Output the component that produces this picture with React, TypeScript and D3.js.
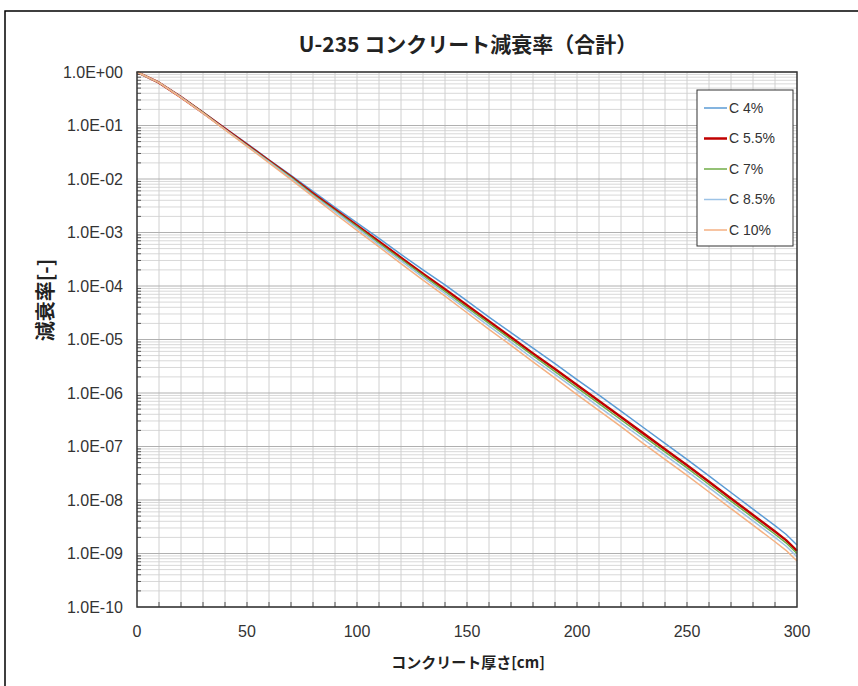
import * as d3 from "d3";

// 厚さ [cm]
const thickness = [0, 10, 20, 30, 40, 50, 60, 70, 80, 90, 100, 110, 120, 130, 140, 150, 160, 170, 180, 190, 200, 210, 220, 230, 240, 250, 260, 270, 280, 290, 295, 300];

// 減衰率 (log10 で読み取り)
const c4 = [0, -0.20, -0.47, -0.75, -1.05, -1.34, -1.64, -1.93, -2.23, -2.53, -2.82, -3.11, -3.41, -3.70, -3.98, -4.28, -4.58, -4.87, -5.16, -5.45, -5.75, -6.04, -6.34, -6.64, -6.94, -7.24, -7.55, -7.86, -8.17, -8.48, -8.64, -8.84];
const c55 = [0, -0.20, -0.47, -0.76, -1.06, -1.36, -1.66, -1.96, -2.27, -2.57, -2.87, -3.17, -3.47, -3.77, -4.06, -4.36, -4.66, -4.96, -5.26, -5.55, -5.85, -6.15, -6.45, -6.75, -7.05, -7.35, -7.66, -7.97, -8.28, -8.59, -8.75, -8.95];
const c7 = [0, -0.20, -0.47, -0.76, -1.07, -1.37, -1.67, -1.97, -2.29, -2.59, -2.89, -3.20, -3.50, -3.80, -4.10, -4.40, -4.70, -5.00, -5.30, -5.60, -5.90, -6.20, -6.50, -6.80, -7.10, -7.40, -7.71, -8.02, -8.33, -8.64, -8.80, -9.00];
const c85 = [0, -0.20, -0.47, -0.77, -1.07, -1.38, -1.68, -1.99, -2.31, -2.61, -2.92, -3.23, -3.53, -3.84, -4.14, -4.44, -4.75, -5.05, -5.36, -5.65, -5.95, -6.26, -6.56, -6.86, -7.16, -7.46, -7.77, -8.08, -8.39, -8.70, -8.86, -9.06];
const c10 = [0, -0.20, -0.48, -0.77, -1.08, -1.39, -1.70, -2.01, -2.33, -2.65, -2.96, -3.27, -3.58, -3.89, -4.19, -4.50, -4.81, -5.11, -5.42, -5.72, -6.03, -6.33, -6.63, -6.94, -7.24, -7.54, -7.85, -8.16, -8.47, -8.78, -8.94, -9.14];

const seriesNames = ["C 4%", "C 5.5%", "C 7%", "C 8.5%", "C 10%"];
const seriesColors = ["#5b9bd5", "#c00000", "#70ad47", "#9dc3e6", "#f4b183"];
const seriesWidths = [1.5, 2.5, 1.5, 1.5, 1.5];
const seriesLogs = [c4, c55, c7, c85, c10];

const xTickValues = [0, 50, 100, 150, 200, 250, 300];

const W = 858;
const H = 686;
const left = 137, right = 797, top = 72, bottom = 607;

const fmtExp = (v: number) => {
  const k = Math.round(Math.log10(v));
  return `1.0E${k < 0 ? "-" : "+"}${String(Math.abs(k)).padStart(2, "0")}`;
};

export default function App() {
  const x = d3.scaleLinear().domain([0, 300]).range([left, right]);
  const y = d3.scaleLog().domain([1, 1e-10]).range([top, bottom]);

  const allTicks = y.ticks(20);
  const majors = allTicks.filter(t => Math.abs(Math.log10(t) - Math.round(Math.log10(t))) < 1e-9);
  const minors = allTicks.filter(t => !majors.includes(t));
  const xGrid = d3.range(10, 300, 10);

  const line = d3.line<number>()
    .x((_, i) => x(thickness[i]))
    .y(v => y(Math.pow(10, v)));

  const tickFont = "'Liberation Sans', Arial, sans-serif";
  const cjkFont = "'Noto Sans CJK JP', sans-serif";

  return (
    <svg width={W} height={H} style={{ position: "absolute", left: 0, top: 0, background: "#fff" }}>
      <rect x={5} y={11} width={W} height={H} fill="#fff" stroke="#000" strokeWidth={1.5} />

      <text x={468} y={52} textAnchor="middle" fontFamily={cjkFont} fontWeight="bold" fontSize={21} fill="#222">
        U-235 コンクリート減衰率（合計）
      </text>

      <rect x={left} y={top} width={right - left} height={bottom - top} fill="#fff" />

      {minors.map(t => (
        <line key={`mn${t}`} x1={left} x2={right} y1={y(t)} y2={y(t)} stroke="#d8d8d8" strokeWidth={1} />
      ))}
      {xGrid.map(v => (
        <line key={`vx${v}`} x1={x(v)} x2={x(v)} y1={top} y2={bottom} stroke="#d0d0d0" strokeWidth={1} />
      ))}
      {majors.map(t => (
        <line key={`mj${t}`} x1={left} x2={right} y1={y(t)} y2={y(t)} stroke="#b0b0b0" strokeWidth={1} />
      ))}

      {/* tick marks */}
      {minors.map(t => (
        <line key={`tm${t}`} x1={left} x2={left + 4} y1={y(t)} y2={y(t)} stroke="#555" strokeWidth={1} />
      ))}
      {xGrid.map(v => (
        <line key={`tx${v}`} x1={x(v)} x2={x(v)} y1={bottom} y2={bottom - 5} stroke="#555" strokeWidth={1} />
      ))}

      {seriesLogs.map((s, i) => (
        <path key={seriesNames[i]} d={line(s) ?? ""} fill="none" stroke={seriesColors[i]}
          strokeWidth={seriesWidths[i]} strokeLinejoin="round" />
      ))}

      <rect x={left} y={top} width={right - left} height={bottom - top} fill="none" stroke="#333" strokeWidth={1.5} />

      {majors.map(t => (
        <text key={`yl${t}`} x={123} y={y(t)} dy="0.35em" textAnchor="end" fontFamily={tickFont} fontSize={16} fill="#333">
          {fmtExp(t)}
        </text>
      ))}
      {xTickValues.map(v => (
        <text key={`xl${v}`} x={x(v)} y={637} textAnchor="middle" fontFamily={tickFont} fontSize={16} fill="#333">
          {v}
        </text>
      ))}

      <text x={468} y={668} textAnchor="middle" fontFamily={cjkFont} fontWeight="bold" fontSize={15} fill="#222">
        コンクリート厚さ[cm]
      </text>
      <text transform={`translate(53,300) rotate(-90)`} textAnchor="middle" fontFamily={cjkFont} fontWeight="bold" fontSize={20} fill="#222">
        減衰率[-]
      </text>

      {/* legend */}
      <g>
        <rect x={697} y={90} width={96} height={156} fill="#fff" stroke="#333" strokeWidth={1} />
        {seriesNames.map((n, i) => {
          const ly = 108 + i * 30.5;
          return (
            <g key={n}>
              <line x1={704} x2={727} y1={ly} y2={ly} stroke={seriesColors[i]} strokeWidth={seriesWidths[i]} />
              <text x={729} y={ly} dy="0.35em" fontFamily={tickFont} fontSize={14} fill="#333">{n}</text>
            </g>
          );
        })}
      </g>
    </svg>
  );
}
